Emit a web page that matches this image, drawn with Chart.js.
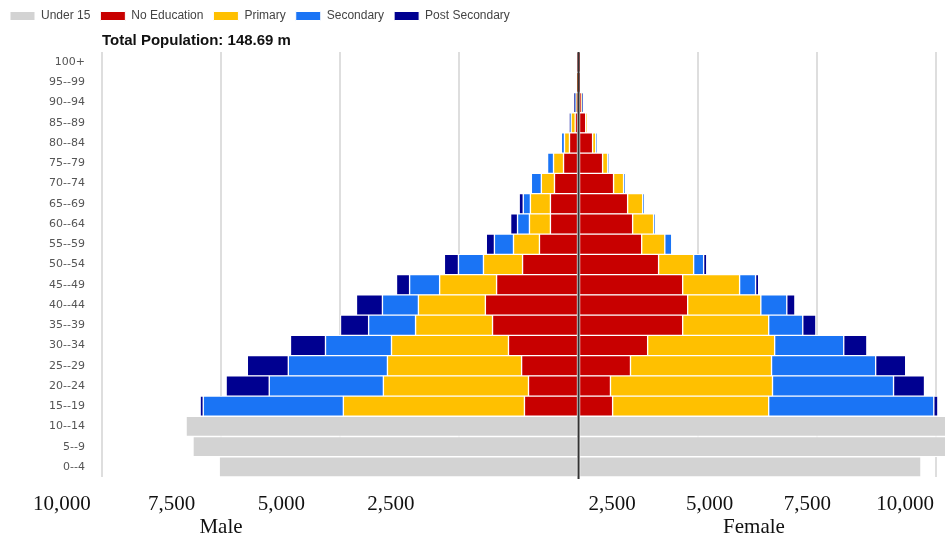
<!DOCTYPE html>
<html>
<head>
<meta charset="utf-8">
<title>Total Population: 148.69 m</title>
<script src="https://cdn.jsdelivr.net/npm/chart.js"></script>
<style>
  html, body { margin:0; padding:0; background:#fff; }
  #wrap { width:945px; height:538px; }
</style>
</head>
<body>
<div id="wrap"><canvas id="chart"></canvas></div>
<script>
// age groups, top of the pyramid first
const ageGroups = ['100+','95--99','90--94','85--89','80--84','75--79','70--74','65--69','60--64','55--59',
  '50--54','45--49','40--44','35--39','30--34','25--29','20--24','15--19','10--14','5--9','0--4'];

// thousands of people, male side (drawn to the left)
const under15M   = [0,0,0,0,0,0,0,0,0,0,0,0,0,0,0,0,0,0,8235,8090,7540];
const noEduM     = [10,20,40,70,190,315,505,590,590,820,1175,1720,1955,1805,1470,1195,1050,1135,0,0,0];
const primaryM   = [0,5,15,85,105,210,275,420,440,545,820,1195,1405,1615,2455,2815,3045,3800,0,0,0];
const secondaryM = [0,0,15,20,65,125,210,150,250,400,525,630,755,985,1385,2080,2395,2940,0,0,0];
const postSecM   = [0,0,25,10,0,0,0,85,145,170,295,275,545,590,735,860,905,65,0,0,0];

// female side (drawn to the right)
const under15F   = [0,0,0,0,0,0,0,0,0,0,0,0,0,0,0,0,0,0,8500,8450,7185];
const noEduF     = [10,20,60,150,295,505,735,1030,1135,1325,1680,2185,2290,2185,1450,1090,670,715,0,0,0];
const primaryF   = [0,0,10,20,65,105,210,315,440,485,735,1195,1535,1805,2665,2960,3400,3275,0,0,0];
const secondaryF = [0,0,10,0,20,20,40,40,40,145,210,335,545,715,1450,2185,2540,3465,0,0,0];
const postSecF   = [0,0,10,0,0,0,0,0,0,0,65,65,170,275,485,630,650,85,0,0,0];

const maleTicks = [10000, 7500, 5000, 2500];
const femaleTicks = [2500, 5000, 7500, 10000];
const sexLabels = ['Male', 'Female'];

const series = [
  { label: 'Under 15',       color: '#d3d3d3', m: under15M,   f: under15F },
  { label: 'No Education',   color: '#c80000', m: noEduM,     f: noEduF },
  { label: 'Primary',        color: '#ffc000', m: primaryM,   f: primaryF },
  { label: 'Secondary',      color: '#1a74f5', m: secondaryM, f: secondaryF },
  { label: 'Post Secondary', color: '#000090', m: postSecM,   f: postSecF }
];

const barStyle = { borderColor: '#fff', borderWidth: 1, borderSkipped: false,
  barPercentage: 1, categoryPercentage: 1 };

const datasets = [
  ...series.map(s => ({ label: s.label, data: s.f, backgroundColor: s.color, ...barStyle })),
  ...series.map(s => ({ label: s.label, data: s.m.map(v => -v), backgroundColor: s.color, ...barStyle }))
];

const centerLine = {
  id: 'centerLine',
  afterDatasetsDraw(chart) {
    const { ctx, chartArea, scales } = chart;
    const x = scales.x.getPixelForValue(0);
    ctx.save();
    ctx.strokeStyle = '#333';
    ctx.lineWidth = 2;
    ctx.beginPath();
    ctx.moveTo(x, chartArea.top);
    ctx.lineTo(x, chartArea.bottom + 2);
    ctx.stroke();
    ctx.restore();
  }
};

const serif = { family: "'Liberation Serif', 'Times New Roman', serif", size: 21 };

// the label rows sit on their own axes; no padding from them should squeeze the plot
const noPad = s => { s.paddingLeft = 0; s.paddingRight = 0; };

new Chart(document.getElementById('chart'), {
  type: 'bar',
  data: { labels: ageGroups, datasets },
  plugins: [centerLine],
  options: {
    indexAxis: 'y',
    responsive: true,
    maintainAspectRatio: false,
    animation: false,
    layout: { padding: 0 },
    plugins: {
      tooltip: { enabled: false },
      legend: {
        position: 'top', align: 'start',
        labels: {
          boxWidth: 25, boxHeight: 9, padding: 10, color: '#444',
          font: { family: "'Liberation Sans', Arial, sans-serif", size: 12 },
          filter: item => item.datasetIndex < series.length
        }
      },
      title: {
        display: true, text: 'Total Population: 148.69 m',
        align: 'start', fullSize: false, weight: 500,
        color: '#111', padding: { top: 0, bottom: 2 },
        font: { family: "'Liberation Sans', Arial, sans-serif", size: 15, weight: 'bold' }
      }
    },
    scales: {
      y: {
        stacked: true,
        grid: { display: false, drawTicks: false },
        border: { display: false },
        ticks: { color: '#555', padding: 17, font: { family: "'DejaVu Sans', sans-serif", size: 11 } },
        afterFit: s => { s.width = 102; }
      },
      x: {
        stacked: true, min: -10000, max: 7690, weight: 0,
        grid: { color: '#dedede', lineWidth: 2, drawTicks: false },
        border: { display: false },
        ticks: { display: false },
        afterBuildTicks: s => {
          const t = [];
          for (let v = s.min; v <= s.max; v += 2500) t.push({ value: v });
          s.ticks = t;
        },
        afterFit: s => { s.height = 0; noPad(s); }
      },
      xFemale: {
        axis: 'x', type: 'linear', position: 'bottom', weight: 1,
        min: -10555, max: 11023,
        grid: { display: false, drawTicks: false },
        border: { display: false },
        ticks: { color: '#111', font: serif, mirror: true, padding: -40, autoSkip: false, maxRotation: 0,
          callback: v => Math.abs(v).toLocaleString('en-US') },
        afterBuildTicks: s => { s.ticks = femaleTicks.map(v => ({ value: v })); },
        afterFit: s => { s.height = 0; noPad(s); }
      },
      xMale: {
        axis: 'x', type: 'linear', position: 'bottom', weight: 2,
        min: -9088, max: 10129,
        grid: { display: false, drawTicks: false },
        border: { display: false },
        ticks: { color: '#111', font: serif, mirror: true, padding: -40, autoSkip: false, maxRotation: 0,
          callback: v => Math.abs(v).toLocaleString('en-US') },
        afterBuildTicks: s => { s.ticks = maleTicks.map(v => ({ value: -v })); },
        afterFit: s => { s.height = 0; noPad(s); }
      },
      xSex: {
        axis: 'x', type: 'linear', position: 'bottom', weight: 3,
        min: -0.2233, max: 1.3583,
        grid: { display: false, drawTicks: false },
        border: { display: false },
        ticks: { color: '#111', font: serif, padding: 38, autoSkip: false, maxRotation: 0,
          callback: v => sexLabels[v] },
        afterBuildTicks: s => { s.ticks = sexLabels.map((_, i) => ({ value: i })); },
        afterFit: s => { s.height = 61; noPad(s); }
      }
    }
  }
});
</script>
</body>
</html>
